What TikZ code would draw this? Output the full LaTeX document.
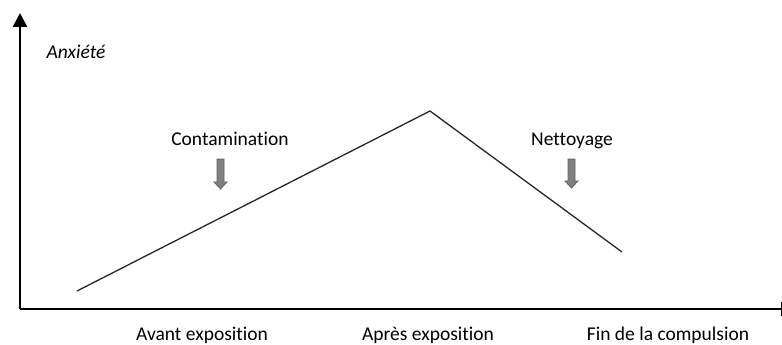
\documentclass[tikz,border=0pt]{standalone}
\usepackage{fontspec}
\setmainfont[Ligatures=NoCommon]{Carlito}
\usetikzlibrary{arrows.meta}
\begin{document}
\begin{tikzpicture}[x=1pt,y=-1pt,
  lbl/.style={font=\fontsize{19.5}{22}\selectfont, inner sep=0pt, anchor=base, text=black},
  axis/.style={line width=2.4pt, draw=black},
  curve/.style={line width=1.3pt, draw=black!85},
  downarrow/.style={fill=black!50, draw=black!62, line width=0.8pt, line join=miter}
]
\useasboundingbox (0,0) rectangle (782,345);
\clip (0,0) rectangle (782,345);
% axes
\coordinate (O) at (20,309);
\coordinate (ytop) at (20,13);
\coordinate (xend) at (795,309);
\draw[axis,-{Triangle[width=14pt,length=14pt]}] (O) -- (ytop);
\draw[axis,-{Triangle[width=14pt,length=14pt]}] (O) -- (xend);
% curve
\coordinate (p0) at (77,291);
\coordinate (p1) at (430,111);
\coordinate (p2) at (622,252);
\draw[curve] (p0) -- (p1) -- (p2);
% labels
\node[lbl, font=\fontsize{19.5}{22}\selectfont\itshape] (anx) at (76,59) {Anxiété};
\node[lbl] (cont) at (230,145) {Contamination};
\node[lbl] (nett) at (572,145) {Nettoyage};
\node[lbl] (avant) at (202,340) {Avant exposition};
\node[lbl] (apres) at (428,340) {Après exposition};
\node[lbl] (fin) at (668,340) {Fin de la compulsion};
% gray arrows
\draw[downarrow] (217,159) -- (224,159) -- (224,182) -- (227,182) -- (220.5,189) -- (214,182) -- (217,182) -- cycle;
\draw[downarrow] (568,159) -- (575,159) -- (575,181) -- (578,181) -- (571.5,188) -- (565,181) -- (568,181) -- cycle;
\end{tikzpicture}
\end{document}
